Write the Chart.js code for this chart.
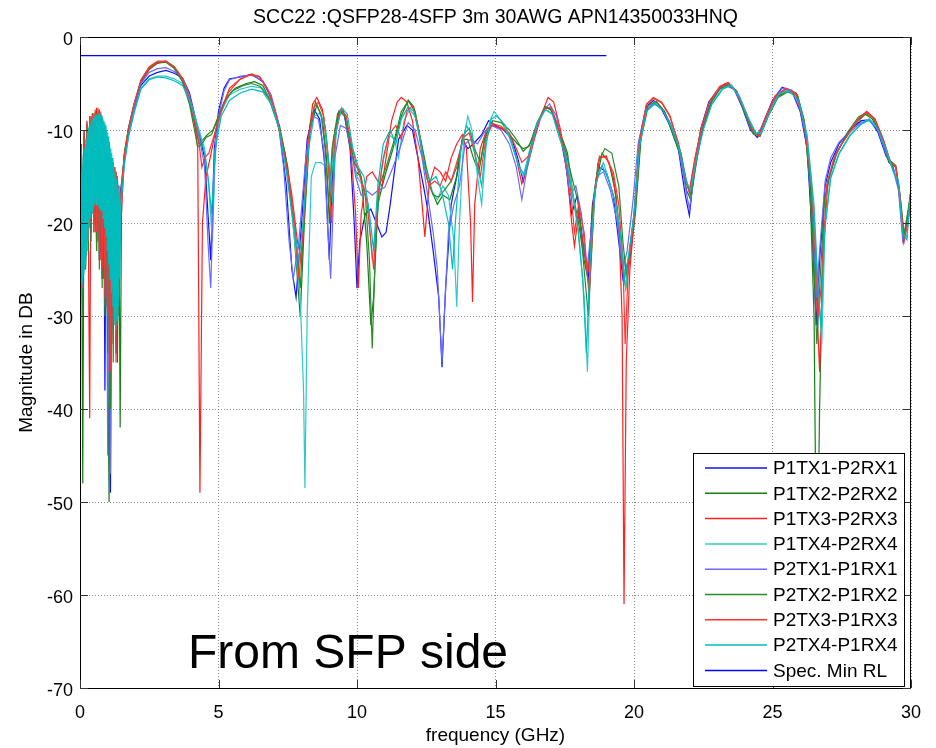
<!DOCTYPE html>
<html>
<head>
<meta charset="utf-8">
<script src="https://cdn.jsdelivr.net/npm/chart.js@4.4.1/dist/chart.umd.min.js"></script>
<style>
html,body{margin:0;padding:0;background:#fff;}
#wrap{position:relative;width:936px;height:748px;}
</style>
</head>
<body>
<div id="wrap"><canvas id="c" width="936" height="748"></canvas></div>
<script>
const TITLE = 'SCC22 :QSFP28-4SFP 3m 30AWG APN14350033HNQ';
const X_LABEL = 'frequency (GHz)';
const Y_LABEL = 'Magnitude in DB';
const NOTE = 'From SFP side';
const X_TICKS = [0, 5, 10, 15, 20, 25, 30];
const Y_TICKS = [0, -10, -20, -30, -40, -50, -60, -70];
const SERIES_NAMES = ['P1TX1-P2RX1','P1TX2-P2RX2','P1TX3-P2RX3','P1TX4-P2RX4','P2TX1-P1RX1','P2TX2-P1RX2','P2TX3-P1RX3','P2TX4-P1RX4','Spec. Min RL'];
const SERIES_COLORS = ['#1010ff','#168016','#ff2020','#30c8c8','#6a6aff','#2a8a2a','#ff3535','#00bcbc','#0000ff'];

// [frequency GHz, magnitude dB]
const P1TX1_P2RX1 = [[0,-24],[.05,-13],[.1,-27],[.15,-11],[.2,-22],[.25,-10],[.3,-21],[.35,-9],[.4,-20],[.45,-8.8],[.5,-19],[.55,-8.6],[.6,-20],[.65,-9],[.7,-21],[.75,-9.5],[.8,-25],[.85,-10],[.9,-38],[.95,-11],[1.0,-30],[1.05,-12],[1.1,-49],[1.15,-13],[1.2,-30],[1.25,-14],[1.3,-34],[1.35,-15],[1.4,-24],[1.45,-17],
[1.6,-13],[1.75,-10.5],[1.95,-7.8],[2.2,-5.2],[2.5,-4.2],[2.8,-3.8],[3.1,-3.6],[3.4,-3.9],[3.7,-4.4],[3.95,-6],[4.15,-8.5],[4.35,-11],[4.5,-13],[4.62,-19],[4.72,-24],[4.85,-12],[5.0,-8],[5.2,-5.5],[5.4,-4.5],[5.8,-4.3],[6.2,-4],[6.6,-4.8],[6.9,-6.5],[7.2,-10],[7.45,-16],[7.65,-25],[7.8,-28],[8.0,-20],[8.2,-11],[8.45,-7.8],[8.65,-8.8],[8.85,-14],[9.0,-24],[9.15,-12],[9.35,-8],[9.55,-8.5],[9.75,-12],[9.9,-20],[10.0,-27],[10.1,-22],[10.3,-19],[10.5,-18.5],[10.7,-20],[10.9,-21.5],[11.05,-21],[11.2,-18],[11.5,-11],[11.8,-9.5],[12.0,-10],[12.2,-13],[12.4,-16],[12.55,-18.5],[12.75,-23],[12.95,-28],[13.07,-35.5],[13.2,-27],[13.4,-18],[13.6,-15],[13.8,-11],[14.0,-12],[14.2,-11.5],[14.5,-10.5],[14.75,-9],[15.0,-9.5],[15.3,-10],[15.6,-11],[15.8,-13],[16.0,-15.5],[16.2,-13],[16.5,-9.5],[16.8,-7.5],[17.0,-7.8],[17.3,-10],[17.55,-14],[17.75,-19],[17.95,-17],[18.15,-22],[18.35,-26],[18.5,-18],[18.75,-14],[19.0,-14.5],[19.25,-17],[19.45,-22],[19.6,-26],[19.8,-24],[20.0,-19],[20.2,-11],[20.45,-7.5],[20.7,-6.8],[21.0,-7.8],[21.3,-9.5],[21.6,-12],[21.85,-17],[22.0,-19.2],[22.15,-15],[22.4,-10],[22.7,-7],[23.0,-5.8],[23.3,-5],[23.6,-5.5],[23.9,-7.5],[24.2,-10],[24.45,-10.8],[24.7,-9],[25.0,-6.8],[25.35,-5.4],[25.7,-5.8],[26.0,-8],[26.25,-12],[26.45,-22],[26.58,-31],[26.7,-24],[26.9,-16],[27.1,-13.5],[27.4,-11.5],[27.8,-10],[28.2,-9],[28.5,-8.9],[28.8,-10.2],[29.1,-12.8],[29.35,-14],[29.55,-16],[29.72,-22],[29.85,-20],[30.0,-16.5]];

const P1TX2_P2RX2 = [[0,-30],[.05,-12],[.1,-48],[.15,-10.5],[.2,-24],[.25,-9.5],[.3,-22],[.35,-8.5],[.4,-21],[.45,-8.2],[.5,-20],[.55,-8.3],[.6,-22],[.65,-8.7],[.7,-24],[.75,-9.2],[.8,-26],[.85,-10],[.9,-28],[.95,-11],[1.0,-32],[1.05,-50],[1.1,-14],[1.15,-31],[1.2,-13.5],[1.25,-29],[1.3,-14.5],[1.35,-35],[1.4,-16],[1.45,-42],[1.5,-17],
[1.6,-12.5],[1.75,-9.8],[1.95,-7.3],[2.2,-4.8],[2.5,-3.4],[2.8,-2.8],[3.1,-2.6],[3.4,-3.2],[3.7,-4.5],[3.95,-6.8],[4.15,-9.5],[4.3,-11.5],[4.45,-11],[4.6,-10.5],[4.8,-10],[5.0,-8.5],[5.3,-6.5],[5.6,-5.5],[6.0,-5],[6.3,-4.8],[6.6,-5.2],[6.9,-7],[7.2,-9.5],[7.5,-14],[7.7,-20],[7.85,-26],[7.95,-30],[8.1,-20],[8.3,-10],[8.55,-7.3],[8.75,-8.8],[8.9,-13],[9.0,-20],[9.15,-11],[9.35,-8],[9.55,-8.3],[9.75,-11.5],[9.95,-14.5],[10.15,-15],[10.35,-22],[10.5,-31],[10.6,-28],[10.75,-18],[11.0,-15],[11.3,-12],[11.6,-8.5],[11.85,-6.8],[12.05,-7.5],[12.3,-11],[12.5,-14],[12.7,-16.5],[12.9,-18],[13.1,-17],[13.35,-17.5],[13.6,-15],[13.8,-11],[14.0,-11],[14.2,-13],[14.4,-14.5],[14.6,-11],[14.85,-9.5],[15.2,-9.8],[15.5,-10.5],[15.8,-11.5],[16.0,-12],[16.2,-11.8],[16.5,-9.5],[16.8,-7.6],[17.0,-7.8],[17.3,-10],[17.6,-12.5],[17.8,-17],[18.0,-20],[18.2,-24],[18.4,-27],[18.6,-16],[18.85,-12.5],[19.1,-13.5],[19.35,-17],[19.55,-24],[19.7,-27],[19.85,-24],[20.05,-19],[20.25,-11],[20.5,-7.6],[20.8,-7],[21.1,-8],[21.4,-10.5],[21.7,-13],[21.9,-16.5],[22.05,-17.5],[22.25,-13],[22.5,-9.5],[22.8,-6.8],[23.1,-5.5],[23.4,-5.1],[23.7,-5.9],[24.0,-8],[24.3,-10.2],[24.5,-10.6],[24.8,-8.6],[25.1,-6.6],[25.5,-5.8],[25.9,-6.2],[26.15,-9],[26.35,-16],[26.5,-30],[26.6,-62],[26.7,-40],[26.85,-18],[27.05,-15],[27.3,-12.5],[27.7,-10.5],[28.1,-9],[28.35,-8.3],[28.6,-8.8],[28.9,-10.5],[29.2,-13.5],[29.45,-14],[29.6,-17],[29.75,-21.5],[29.9,-19],[30.0,-17]];

const P1TX3_P2RX3 = [[0,-37],[.05,-12],[.1,-26],[.15,-10],[.2,-23],[.25,-9],[.3,-20],[.35,-41],[.4,-8.5],[.45,-19],[.5,-8.2],[.55,-21],[.6,-7.6],[.65,-22],[.7,-7.8],[.75,-24],[.8,-8.6],[.85,-26],[.9,-10],[.95,-29],[1.0,-11],[1.05,-31],[1.1,-12.5],[1.15,-33],[1.2,-13.5],[1.25,-30],[1.3,-14.5],[1.35,-26],[1.4,-16],[1.45,-22],
[1.6,-12.8],[1.75,-10],[1.95,-7.4],[2.2,-4.9],[2.5,-3.5],[2.8,-2.8],[3.1,-2.7],[3.4,-3.3],[3.7,-4.6],[3.95,-7],[4.15,-9.5],[4.25,-12],[4.33,-49],[4.42,-20],[4.55,-15],[4.7,-13],[4.9,-10],[5.1,-7.8],[5.4,-5.5],[5.8,-4.5],[6.2,-4],[6.5,-4.3],[6.8,-5.8],[7.1,-8.5],[7.4,-12.5],[7.65,-17],[7.85,-22],[8.0,-24],[8.2,-12],[8.4,-7.2],[8.55,-6.5],[8.75,-7.8],[8.9,-11],[9.05,-16],[9.2,-10],[9.4,-7.8],[9.6,-8.5],[9.8,-13],[9.95,-19],[10.05,-27],[10.15,-19],[10.35,-15],[10.55,-14.5],[10.75,-15.5],[10.9,-16],[11.05,-13],[11.25,-9],[11.45,-7],[11.6,-6.5],[11.8,-7],[12.0,-9],[12.2,-13],[12.35,-18],[12.45,-21.5],[12.6,-16],[12.8,-14],[13.0,-14.5],[13.2,-15.5],[13.4,-13],[13.6,-11.5],[13.8,-10.5],[13.95,-12],[14.1,-20],[14.17,-28.5],[14.25,-18],[14.45,-12],[14.7,-9.8],[14.9,-9.5],[15.2,-9.8],[15.5,-10.5],[15.75,-13],[15.95,-15.8],[16.15,-14],[16.4,-11],[16.7,-8],[16.9,-6.5],[17.1,-7],[17.35,-10],[17.6,-15],[17.75,-20],[17.85,-22.5],[18.0,-19],[18.2,-23],[18.35,-25],[18.55,-17],[18.75,-13],[19.0,-12.8],[19.25,-15],[19.45,-20],[19.57,-30],[19.64,-61],[19.72,-35],[19.85,-25],[20.0,-20],[20.2,-11],[20.45,-7.2],[20.7,-6.5],[21.0,-7],[21.3,-8.5],[21.6,-11.5],[21.85,-15],[22.0,-16.5],[22.2,-13],[22.45,-9.5],[22.75,-6.8],[23.1,-5.3],[23.4,-4.9],[23.7,-5.8],[24.0,-7.8],[24.3,-10],[24.5,-10.6],[24.75,-8.6],[25.1,-6.3],[25.5,-5.5],[25.85,-6],[26.15,-9.5],[26.4,-16],[26.55,-25],[26.7,-36],[26.82,-24],[27.0,-15.5],[27.3,-12.5],[27.7,-10.5],[28.1,-8.8],[28.4,-8.0],[28.7,-8.8],[29.0,-11],[29.25,-13.3],[29.45,-14],[29.6,-17.5],[29.75,-22],[29.9,-19.5],[30.0,-17.5]];

const P1TX4_P2RX4 = [[0,-28],[.025,-15],[.05,-27],[.075,-14],[.1,-26],[.125,-12.5],[.15,-25],[.175,-11.5],[.2,-24],[.225,-10.8],[.25,-23],[.275,-10],[.3,-21],[.325,-9.6],[.35,-20],[.375,-9.2],[.4,-19],[.425,-9],[.45,-18.5],[.475,-8.7],[.5,-18],[.525,-8.5],[.55,-18],[.575,-8.4],[.6,-18],[.625,-8.3],[.65,-18],[.675,-8.2],[.7,-18.5],[.725,-8.3],[.75,-18.5],[.775,-8.5],[.8,-19],[.825,-8.8],[.85,-20],[.875,-9.2],[.9,-21],[.925,-9.8],[.95,-22],[.975,-10.3],[1.0,-24],[1.025,-11],[1.05,-25],[1.075,-11.7],[1.1,-27],[1.125,-12.5],[1.15,-28],[1.175,-13.3],[1.2,-30],[1.225,-14],[1.25,-31],[1.275,-14.8],[1.3,-31],[1.325,-15.5],[1.35,-30],[1.375,-16.3],[1.4,-28],[1.425,-17],[1.45,-18],
[1.6,-13.5],[1.75,-10.5],[1.95,-8],[2.2,-5.5],[2.5,-4.5],[2.8,-4.2],[3.1,-4.2],[3.4,-4.5],[3.7,-5],[3.95,-6.5],[4.15,-8.5],[4.35,-10.5],[4.5,-12],[4.65,-16],[4.78,-22],[4.9,-11],[5.1,-8],[5.4,-6.2],[5.8,-5.6],[6.2,-5.3],[6.6,-5.5],[6.9,-7],[7.2,-10],[7.5,-15],[7.75,-22],[7.95,-28],[8.07,-38],[8.12,-48.5],[8.2,-30],[8.35,-15],[8.5,-13.5],[8.7,-13.5],[8.9,-14],[9.05,-16],[9.2,-10.5],[9.4,-8.2],[9.6,-8.5],[9.8,-12],[10.0,-15],[10.2,-16],[10.4,-18],[10.55,-24],[10.7,-20],[10.9,-14],[11.15,-10.5],[11.35,-11],[11.5,-13],[11.7,-9],[11.9,-7.8],[12.1,-8.5],[12.3,-11.5],[12.5,-15],[12.7,-16.5],[12.9,-17.5],[13.1,-16],[13.3,-17],[13.5,-22],[13.6,-29],[13.7,-20],[13.85,-11],[14.0,-8.5],[14.15,-10],[14.35,-15],[14.5,-18],[14.65,-12],[14.8,-9],[14.95,-8],[15.2,-9],[15.5,-10.8],[15.8,-13.5],[16.0,-15],[16.2,-12.5],[16.5,-9.5],[16.8,-7.8],[17.05,-8.2],[17.3,-10.5],[17.6,-13],[17.8,-17],[18.0,-21],[18.2,-28],[18.32,-36],[18.45,-22],[18.65,-15],[18.9,-13.5],[19.15,-16],[19.35,-18],[19.55,-22],[19.7,-27],[19.85,-23],[20.0,-19],[20.2,-11.5],[20.45,-7.8],[20.75,-7],[21.05,-7.8],[21.35,-9.5],[21.65,-12],[21.9,-15.5],[22.05,-16.8],[22.25,-13],[22.5,-9.8],[22.8,-7.2],[23.2,-5.5],[23.5,-5.1],[23.8,-6.3],[24.1,-8.5],[24.4,-10.3],[24.6,-10.2],[24.9,-8],[25.25,-6],[25.6,-5.7],[25.95,-6.8],[26.25,-10.5],[26.5,-18],[26.65,-27],[26.78,-33],[26.9,-20],[27.1,-15],[27.4,-12.5],[27.8,-10.5],[28.2,-9.3],[28.5,-8.8],[28.8,-9.8],[29.1,-12],[29.35,-14.3],[29.55,-15.5],[29.7,-21],[29.85,-21.5],[30.0,-16]];

const P2TX1_P1RX1 = [[0,-33],[.05,-12.5],[.1,-24],[.15,-10.5],[.2,-22],[.25,-9.8],[.3,-20],[.35,-9.2],[.4,-21],[.45,-8.7],[.5,-20],[.55,-8.5],[.6,-23],[.65,-8.8],[.7,-24],[.75,-9.4],[.8,-26],[.85,-10.2],[.9,-29],[.95,-11],[1.0,-45],[1.05,-12.2],[1.1,-47],[1.15,-13.2],[1.2,-32],[1.25,-14.2],[1.3,-29],[1.35,-15.2],[1.4,-25],[1.45,-18],
[1.6,-13.2],[1.75,-10.3],[1.95,-7.6],[2.2,-5],[2.5,-3.8],[2.8,-3.4],[3.1,-3.3],[3.4,-3.7],[3.7,-4.4],[3.95,-6.2],[4.15,-8.8],[4.35,-11.5],[4.5,-14],[4.62,-22],[4.72,-27],[4.85,-14],[5.0,-8.5],[5.2,-5.8],[5.4,-4.6],[5.8,-4.2],[6.2,-4.1],[6.6,-4.7],[6.9,-6.2],[7.15,-9],[7.35,-14],[7.55,-22],[7.7,-26],[7.9,-22],[8.15,-13],[8.4,-8.5],[8.6,-8.8],[8.8,-12],[8.95,-21],[9.05,-26],[9.2,-13],[9.4,-9.5],[9.6,-9.8],[9.8,-12],[9.95,-15],[10.15,-17],[10.35,-16.5],[10.55,-17],[10.75,-16.5],[11.0,-16.2],[11.3,-14],[11.6,-11.5],[11.85,-9.2],[12.1,-10],[12.35,-13],[12.55,-17],[12.75,-21],[12.9,-25],[13.0,-31],[13.07,-35],[13.15,-30],[13.3,-21],[13.5,-18],[13.7,-16],[13.9,-11.5],[14.1,-11],[14.35,-11.5],[14.6,-10.2],[14.85,-9.5],[15.2,-10],[15.5,-11.5],[15.75,-14],[15.95,-17.5],[16.15,-14],[16.4,-10.5],[16.7,-8],[16.95,-7.2],[17.2,-8.5],[17.45,-12],[17.7,-17],[17.9,-16],[18.1,-19],[18.3,-25],[18.45,-21],[18.65,-15],[18.9,-14.5],[19.15,-16.5],[19.4,-20],[19.6,-25],[19.75,-23],[19.95,-18],[20.15,-11.5],[20.4,-8],[20.7,-7.2],[21.0,-7.6],[21.3,-9.2],[21.6,-11.8],[21.85,-16],[22.0,-18.5],[22.15,-15.5],[22.4,-10.5],[22.7,-7.2],[23.0,-5.8],[23.3,-5.2],[23.6,-5.6],[23.9,-7.3],[24.2,-9.8],[24.45,-10.5],[24.7,-9.2],[25.0,-7],[25.35,-5.5],[25.7,-5.7],[26.0,-7.8],[26.25,-11.5],[26.45,-20],[26.58,-28],[26.7,-23],[26.9,-15.5],[27.1,-13],[27.4,-11.3],[27.8,-10.2],[28.2,-9.2],[28.5,-9],[28.8,-10],[29.1,-12.6],[29.35,-14.2],[29.55,-16.5],[29.7,-21.8],[29.85,-20.5],[30.0,-16.8]];

const P2TX2_P1RX2 = [[0,-26],[.05,-11.5],[.1,-30],[.15,-10],[.2,-25],[.25,-9.2],[.3,-23],[.35,-8.6],[.4,-22],[.45,-8.2],[.5,-21],[.55,-8],[.6,-23],[.65,-7.9],[.7,-25],[.75,-8.5],[.8,-27],[.85,-10.2],[.9,-30],[.95,-11.2],[1.0,-34],[1.05,-12],[1.1,-40],[1.15,-13],[1.2,-35],[1.25,-14],[1.3,-33],[1.35,-15.5],[1.4,-30],[1.45,-19],
[1.6,-12.6],[1.75,-9.9],[1.95,-7.2],[2.2,-4.7],[2.5,-3.3],[2.8,-2.7],[3.1,-2.7],[3.4,-3.4],[3.7,-4.8],[3.95,-7.2],[4.1,-9.5],[4.25,-11.8],[4.4,-11.5],[4.55,-10.8],[4.75,-10.5],[4.95,-9],[5.2,-7],[5.5,-5.8],[5.9,-5.2],[6.2,-5],[6.5,-5.3],[6.8,-6.5],[7.1,-9],[7.4,-12.5],[7.6,-17],[7.8,-22],[7.95,-27],[8.1,-19],[8.3,-9.5],[8.5,-7],[8.7,-8.3],[8.85,-12],[8.98,-18],[9.1,-12],[9.3,-8.2],[9.5,-7.8],[9.7,-10.5],[9.9,-13.5],[10.1,-14.5],[10.3,-17],[10.45,-24],[10.55,-33.5],[10.65,-24],[10.8,-16],[11.05,-14],[11.35,-11],[11.6,-8],[11.85,-6.9],[12.1,-8],[12.35,-12],[12.55,-15.5],[12.75,-17],[12.95,-17.2],[13.15,-16.5],[13.4,-15.5],[13.6,-14],[13.85,-10.5],[14.05,-9.8],[14.25,-12],[14.45,-13.5],[14.65,-10.5],[14.9,-9],[15.2,-9.2],[15.5,-10],[15.75,-11],[16.0,-12.3],[16.25,-11.5],[16.5,-9.2],[16.8,-7.5],[17.0,-7.7],[17.3,-10.2],[17.55,-12.5],[17.75,-15],[18.0,-18],[18.2,-25],[18.35,-30],[18.5,-19],[18.7,-13.5],[18.95,-12],[19.2,-12.5],[19.45,-16],[19.6,-22],[19.72,-25.5],[19.85,-23],[20.05,-18.5],[20.25,-10.5],[20.5,-7.4],[20.8,-6.9],[21.1,-8],[21.4,-10.3],[21.7,-12.5],[21.9,-15.8],[22.05,-17],[22.25,-13.5],[22.5,-9.6],[22.8,-7],[23.1,-5.6],[23.4,-5.1],[23.7,-5.8],[24.0,-8.2],[24.3,-10.4],[24.55,-10.7],[24.85,-8.5],[25.2,-6.5],[25.55,-5.9],[25.9,-6.3],[26.15,-9.2],[26.35,-15],[26.5,-25],[26.6,-33],[26.72,-26],[26.88,-17.5],[27.1,-14.5],[27.35,-12.3],[27.7,-10.3],[28.1,-8.6],[28.35,-8.2],[28.6,-8.6],[28.9,-10.3],[29.2,-13.2],[29.45,-13.8],[29.6,-16.8],[29.75,-21.2],[29.9,-18.5],[30.0,-16.5]];

const P2TX3_P1RX3 = [[0,-22],[.05,-12.2],[.1,-27],[.15,-10.3],[.2,-24],[.25,-9.3],[.3,-22],[.35,-8.8],[.4,-20],[.45,-8.3],[.5,-21],[.55,-7.8],[.6,-21],[.65,-7.6],[.7,-23],[.75,-8],[.8,-25],[.85,-9.8],[.9,-28],[.95,-10.6],[1.0,-30],[1.05,-11.8],[1.1,-36],[1.15,-13],[1.2,-31],[1.25,-14],[1.3,-35],[1.35,-15],[1.4,-27],[1.45,-17.5],
[1.6,-12.7],[1.75,-9.8],[1.95,-7.2],[2.2,-4.6],[2.5,-3.2],[2.8,-2.6],[3.1,-2.6],[3.4,-3.2],[3.7,-4.4],[3.95,-6.6],[4.15,-9],[4.3,-11.5],[4.4,-14],[4.5,-13],[4.65,-12.5],[4.85,-10.5],[5.05,-8.5],[5.35,-6],[5.75,-4.6],[6.1,-4.1],[6.45,-4.2],[6.75,-5.5],[7.05,-8],[7.3,-11.5],[7.55,-15.5],[7.75,-20],[7.9,-26],[8.05,-21],[8.25,-11],[8.45,-7.5],[8.6,-7],[8.8,-8.5],[8.95,-13],[9.08,-20],[9.2,-11],[9.4,-7.9],[9.6,-8.4],[9.8,-11.5],[10.0,-14],[10.2,-16],[10.35,-17.5],[10.5,-22],[10.6,-25],[10.75,-17],[10.95,-13],[11.15,-10.5],[11.4,-9.5],[11.6,-11],[11.8,-8],[12.0,-7.4],[12.2,-9.5],[12.4,-13.5],[12.6,-16],[12.8,-15.5],[13.0,-16],[13.2,-14.5],[13.4,-15.5],[13.6,-13.5],[13.85,-10.8],[14.05,-10.3],[14.25,-12.5],[14.45,-15],[14.65,-11],[14.9,-9.3],[15.2,-9.6],[15.5,-10.3],[15.75,-12],[15.95,-13.5],[16.2,-12.8],[16.45,-9.8],[16.75,-7.8],[17.0,-7.5],[17.25,-9.5],[17.5,-12.5],[17.7,-16],[17.85,-21],[18.0,-18],[18.2,-21],[18.38,-28],[18.55,-18],[18.75,-12.8],[19.0,-13],[19.25,-14.5],[19.45,-18],[19.6,-24],[19.68,-33],[19.8,-24.5],[20.0,-19.5],[20.2,-11.2],[20.45,-7.3],[20.7,-6.6],[21.0,-7.1],[21.3,-8.6],[21.6,-11.3],[21.85,-15.2],[22.0,-16.8],[22.2,-13.2],[22.45,-9.6],[22.75,-6.9],[23.1,-5.4],[23.4,-5],[23.7,-5.9],[24.0,-7.9],[24.3,-10.1],[24.5,-10.7],[24.75,-8.7],[25.1,-6.4],[25.5,-5.6],[25.85,-6.1],[26.15,-9.4],[26.4,-15.5],[26.55,-23],[26.66,-30],[26.78,-26],[26.95,-16],[27.2,-13.2],[27.5,-11.5],[27.85,-10],[28.15,-8.7],[28.4,-8.1],[28.7,-8.9],[29.0,-11.2],[29.25,-13.5],[29.45,-13.9],[29.6,-17.2],[29.75,-21.7],[29.9,-19.8],[30.0,-17.2]];

const P2TX4_P1RX4 = [[0,-30],[.0125,-16],[.0375,-27.5],[.0625,-14.5],[.0875,-26.5],[.1125,-13],[.1375,-25.5],[.1625,-12],[.1875,-24.5],[.2125,-11],[.2375,-23.5],[.2625,-10.3],[.2875,-22],[.3125,-9.8],[.3375,-20.5],[.3625,-9.4],[.3875,-19.5],[.4125,-9.1],[.4375,-18.8],[.4625,-8.8],[.4875,-18.2],[.5125,-8.6],[.5375,-18],[.5625,-8.4],[.5875,-18],[.6125,-8.3],[.6375,-18.2],[.6625,-8.2],[.6875,-18.3],[.7125,-8.2],[.7375,-18.6],[.7625,-8.4],[.7875,-18.8],[.8125,-8.6],[.8375,-19.5],[.8625,-9],[.8875,-20.5],[.9125,-9.5],[.9375,-21.5],[.9625,-10],[.9875,-23],[1.0125,-10.7],[1.0375,-24.5],[1.0625,-11.3],[1.0875,-26],[1.1125,-12],[1.1375,-27.5],[1.1625,-13],[1.1875,-29],[1.2125,-13.7],[1.2375,-30.5],[1.2625,-14.5],[1.2875,-31.5],[1.3125,-15.2],[1.3375,-30.5],[1.3625,-16],[1.3875,-29],[1.4125,-16.8],[1.4375,-26],[1.47,-18.5],
[1.6,-13.8],[1.75,-10.8],[1.95,-8.2],[2.2,-5.6],[2.5,-4.6],[2.8,-4.3],[3.1,-4.4],[3.4,-4.7],[3.7,-5.2],[3.95,-6.8],[4.15,-8.8],[4.35,-10.8],[4.5,-12.5],[4.62,-15],[4.75,-19],[4.88,-12],[5.1,-8.5],[5.4,-6.8],[5.8,-6],[6.2,-5.6],[6.6,-5.9],[6.9,-7.2],[7.2,-10],[7.45,-14.5],[7.7,-20],[7.9,-24],[8.05,-20],[8.25,-12],[8.45,-8.5],[8.65,-8.2],[8.85,-9.5],[9.0,-14],[9.12,-18],[9.25,-10],[9.45,-7.6],[9.65,-8.3],[9.85,-12],[10.05,-14],[10.25,-15],[10.45,-19],[10.6,-23],[10.75,-16],[10.95,-11.5],[11.2,-10],[11.4,-11.5],[11.6,-8.8],[11.85,-7.5],[12.05,-8],[12.25,-10.5],[12.45,-14],[12.65,-15.5],[12.85,-15],[13.05,-16.5],[13.3,-20],[13.45,-25],[13.55,-20],[13.75,-12],[13.95,-9.5],[14.15,-10.5],[14.35,-14],[14.5,-16],[14.65,-11.5],[14.85,-8.8],[15.05,-8.5],[15.35,-9.5],[15.6,-11.5],[15.85,-14],[16.05,-14.8],[16.25,-12.5],[16.5,-9.3],[16.8,-7.8],[17.05,-8.3],[17.3,-10.8],[17.55,-13],[17.75,-16.5],[17.95,-20],[18.15,-26],[18.28,-34],[18.42,-24],[18.6,-16],[18.85,-13.8],[19.1,-15.5],[19.3,-17.5],[19.5,-21],[19.66,-26],[19.8,-23.5],[20.0,-19.2],[20.2,-11.8],[20.45,-8],[20.75,-7.2],[21.05,-7.9],[21.35,-9.7],[21.65,-12.2],[21.9,-15.7],[22.05,-16.5],[22.25,-13.2],[22.5,-10],[22.8,-7.3],[23.2,-5.6],[23.5,-5.2],[23.8,-6.4],[24.1,-8.6],[24.4,-10.4],[24.6,-10.3],[24.9,-8.1],[25.25,-6.1],[25.6,-5.8],[25.95,-6.9],[26.25,-10.8],[26.5,-19],[26.62,-26],[26.75,-31],[26.88,-21],[27.1,-15.2],[27.4,-12.6],[27.8,-10.6],[28.2,-9.4],[28.5,-8.9],[28.8,-9.9],[29.1,-12.1],[29.35,-14.4],[29.55,-15.7],[29.7,-21.2],[29.85,-21.8],[30.0,-16.2]];

const SPEC_MIN_RL = [[0,-2],[19,-2]];

const SERIES_DATA = [P1TX1_P2RX1, P1TX2_P2RX2, P1TX3_P2RX3, P1TX4_P2RX4, P2TX1_P1RX1, P2TX2_P1RX2, P2TX3_P1RX3, P2TX4_P1RX4, SPEC_MIN_RL];

const FONT = '"Liberation Sans", Arial, Helvetica, sans-serif';

const datasets = SERIES_DATA.map((arr, i) => ({
  label: SERIES_NAMES[i],
  data: arr.map(p => ({x: p[0], y: p[1]})),
  borderColor: SERIES_COLORS[i],
  backgroundColor: SERIES_COLORS[i],
  borderWidth: 1.2,
  pointRadius: 0,
  tension: 0,
  fill: false,
  order: 20 - i
}));

const decor = {
  id: 'decor',
  beforeDraw(chart) {
    const ctx = chart.ctx;
    ctx.save();
    ctx.fillStyle = '#fff';
    ctx.fillRect(0, 0, chart.width, chart.height);
    ctx.restore();
  },
  afterDatasetsDraw(chart) {
    const ctx = chart.ctx;
    const a = chart.chartArea;
    const xs = chart.scales.x, ys = chart.scales.y;
    ctx.save();
    ctx.strokeStyle = '#000';
    ctx.lineWidth = 1;
    ctx.strokeRect(Math.round(a.left) + 0.5, Math.round(a.top) + 0.5, Math.round(a.right - a.left) - 1, Math.round(a.bottom - a.top));
    ctx.strokeStyle = '#333';
    X_TICKS.forEach(v => {
      const px = Math.round(xs.getPixelForValue(v)) + 0.5;
      ctx.beginPath();
      ctx.moveTo(px, a.bottom); ctx.lineTo(px, a.bottom - 8);
      ctx.moveTo(px, a.top); ctx.lineTo(px, a.top + 8);
      ctx.stroke();
    });
    Y_TICKS.forEach(v => {
      const py = Math.round(ys.getPixelForValue(v)) + 0.5;
      ctx.beginPath();
      ctx.moveTo(a.left, py); ctx.lineTo(a.left + 8, py);
      ctx.moveTo(a.right, py); ctx.lineTo(a.right - 8, py);
      ctx.stroke();
    });
    ctx.fillStyle = '#000';
    ctx.font = '48px ' + FONT;
    ctx.textAlign = 'left';
    ctx.textBaseline = 'alphabetic';
    ctx.fillText(NOTE, 188, 668);
    const lx = 693, ly = 453, lw = 211, lh = 233;
    ctx.fillStyle = '#fff';
    ctx.fillRect(lx, ly, lw, lh);
    ctx.strokeStyle = '#000';
    ctx.lineWidth = 1;
    ctx.strokeRect(lx + 0.5, ly + 0.5, lw, lh);
    ctx.font = '19px ' + FONT;
    ctx.textBaseline = 'middle';
    SERIES_NAMES.forEach((name, i) => {
      const y = ly + 15 + i * 25.3;
      ctx.strokeStyle = SERIES_COLORS[i];
      ctx.lineWidth = 1.5;
      ctx.beginPath();
      ctx.moveTo(lx + 12, y); ctx.lineTo(lx + 74, y);
      ctx.stroke();
      ctx.fillStyle = '#000';
      ctx.fillText(name, lx + 80, y + 1);
    });
    ctx.fillStyle = '#000';
    ctx.font = '19.5px ' + FONT;
    ctx.textAlign = 'center';
    ctx.textBaseline = 'middle';
    ctx.fillText(TITLE, (a.left + a.right) / 2, 18);
    ctx.font = '19px ' + FONT;
    ctx.fillText(X_LABEL, (a.left + a.right) / 2, 736);
    ctx.translate(27, (a.top + a.bottom) / 2);
    ctx.rotate(-Math.PI / 2);
    ctx.fillText(Y_LABEL, 0, 0);
    ctx.restore();
  }
};

new Chart(document.getElementById('c'), {
  type: 'line',
  data: { datasets },
  options: {
    responsive: false,
    animation: false,
    events: [],
    layout: { padding: { top: 37, right: 25, left: 0, bottom: 0 } },
    plugins: { legend: { display: false }, tooltip: { enabled: false }, title: { display: false } },
    scales: {
      x: {
        type: 'linear', min: 0, max: 30,
        afterFit(s) { s.height = 60; },
        afterBuildTicks(s) { s.ticks = X_TICKS.map(v => ({ value: v })); },
        ticks: { autoSkip: false, maxRotation: 0, padding: 14, color: '#000', font: { family: FONT, size: 18 }, callback: v => String(v) },
        grid: { color: '#8a8a8a', lineWidth: 1, drawTicks: false },
        border: { display: false, dash: [1, 2] }
      },
      y: {
        type: 'linear', min: -70, max: 0,
        afterFit(s) { s.width = 80; },
        afterBuildTicks(s) { s.ticks = Y_TICKS.map(v => ({ value: v })); },
        ticks: { autoSkip: false, padding: 7, labelOffset: 3, color: '#000', font: { family: FONT, size: 18 }, callback: v => String(v) },
        grid: { color: '#8a8a8a', lineWidth: 1, drawTicks: false },
        border: { display: false, dash: [1, 2] }
      }
    }
  },
  plugins: [decor]
});
</script>
</body>
</html>
